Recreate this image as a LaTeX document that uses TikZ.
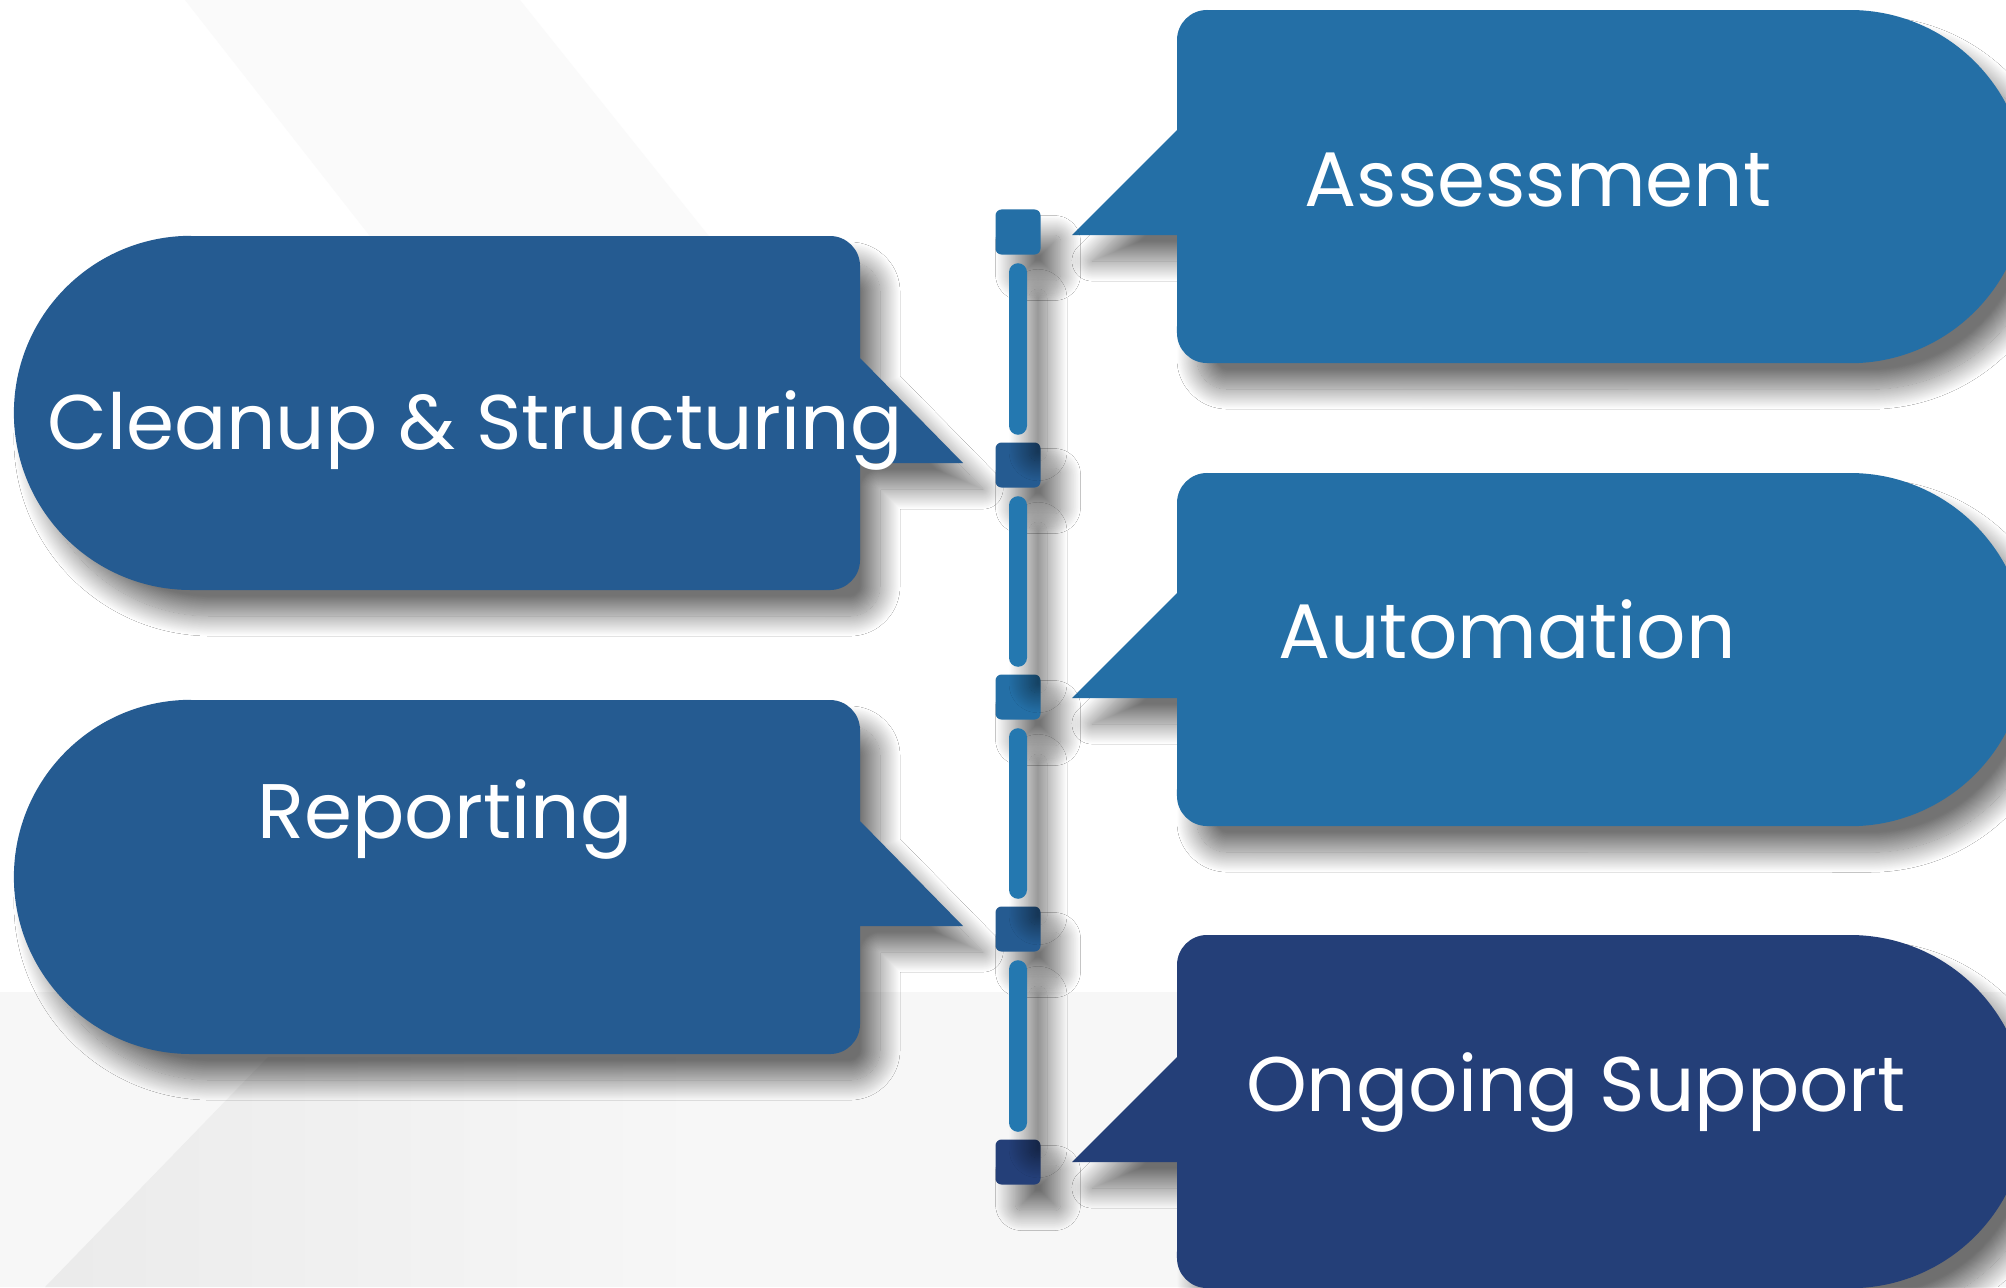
\documentclass[tikz,border=0pt]{standalone}
\usepackage{fontspec}
\setmainfont{Poppins}
\usetikzlibrary{calc}
\usetikzlibrary{shadows.blur}
\definecolor{stepblue}{HTML}{246FA6}
\definecolor{leftblue}{HTML}{255B91}
\definecolor{stepnavy}{HTML}{243F78}
\definecolor{barblue}{HTML}{2478B0}

\begin{document}
\begin{tikzpicture}[
	x=0.01cm, y=-0.01cm,
	softshadow/.style = {blur shadow={shadow xshift=0.2cm, shadow yshift=-0.26cm, shadow blur radius=0.2cm, shadow blur steps=30, shadow opacity=55}},
	stepmark/.style = {rectangle, rounded corners=0.06cm, minimum size=0.45cm, inner sep=0pt, softshadow},
	linkbar/.style = {fill=barblue, rounded corners=0.09cm, softshadow},
	steptext/.style = {text=white, font=\fontsize{22}{26}\selectfont, anchor=base, inner sep=0pt}
	]
	\clip (0,0) rectangle (2006,1287);
	\fill[white] (0,0) rectangle (2006,1287);

	% faint background bands
	\fill[black!2] (185,0) -- (520,0) -- (760,300) -- (420,300) -- cycle;
	\fill[black!3] (0,992) rectangle (2006,1287);
	\shade[left color=black!8, right color=black!3] (45,1287) -- (268,1057) -- (720,1057) -- (720,1287) -- cycle;

	% left-hand steps
	\fill[leftblue, softshadow] (191,236) -- (830,236) arc[start angle=90, end angle=0, radius=0.3cm] -- (860,358) -- (963,463) -- (860,463) -- (860,560) arc[start angle=0, end angle=-90, radius=0.3cm] -- (191,590) arc[start angle=270, end angle=90, radius=1.77cm] -- cycle;
	\fill[leftblue, softshadow] (191,700) -- (830,700) arc[start angle=90, end angle=0, radius=0.3cm] -- (860,821) -- (963,926) -- (860,926) -- (860,1024) arc[start angle=0, end angle=-90, radius=0.3cm] -- (191,1054) arc[start angle=270, end angle=90, radius=1.77cm] -- cycle;

	% right-hand steps
	\fill[stepblue, softshadow] (1207,10) -- (1850,10) arc[start angle=90, end angle=-90, radius=1.765cm] -- (1207,363) arc[start angle=270, end angle=180, radius=0.3cm] -- (1177,235) -- (1072,235) -- (1177,130) -- (1177,40) arc[start angle=180, end angle=90, radius=0.3cm] -- cycle;
	\fill[stepblue, softshadow] (1207,473) -- (1850,473) arc[start angle=90, end angle=-90, radius=1.765cm] -- (1207,826) arc[start angle=270, end angle=180, radius=0.3cm] -- (1177,698) -- (1072,698) -- (1177,593) -- (1177,503) arc[start angle=180, end angle=90, radius=0.3cm] -- cycle;
	\fill[stepnavy, softshadow] (1207,935) -- (1850,935) arc[start angle=90, end angle=-90, radius=1.765cm] -- (1207,1288) arc[start angle=270, end angle=180, radius=0.3cm] -- (1177,1162) -- (1072,1162) -- (1177,1057) -- (1177,965) arc[start angle=180, end angle=90, radius=0.3cm] -- cycle;

	% timeline
	\node[stepmark, fill=stepblue] (m1) at (1018,232) {};
	\node[stepmark, fill=leftblue] (m2) at (1018,465) {};
	\node[stepmark, fill=stepblue] (m3) at (1018,697) {};
	\node[stepmark, fill=leftblue] (m4) at (1018,929) {};
	\node[stepmark, fill=stepnavy] (m5) at (1018,1162) {};

	\fill[linkbar] ($(m1.south)+(-9,8)$) rectangle ($(m2.north)+(9,-7)$);
	\fill[linkbar] ($(m2.south)+(-9,8)$) rectangle ($(m3.north)+(9,-7)$);
	\fill[linkbar] ($(m3.south)+(-9,8)$) rectangle ($(m4.north)+(9,-7)$);
	\fill[linkbar] ($(m4.south)+(-9,8)$) rectangle ($(m5.north)+(9,-7)$);

	\node[steptext] (t1) at (1538,206) {Assessment};
	\node[steptext] (t2) at (1507,658) {Automation};
	\node[steptext] (t3) at (1576,1111) {Ongoing Support};
	\node[steptext] (t4) at (475,449) {Cleanup \& Structuring};
	\node[steptext] (t5) at (445,838) {Reporting};

\end{tikzpicture}
\end{document}
